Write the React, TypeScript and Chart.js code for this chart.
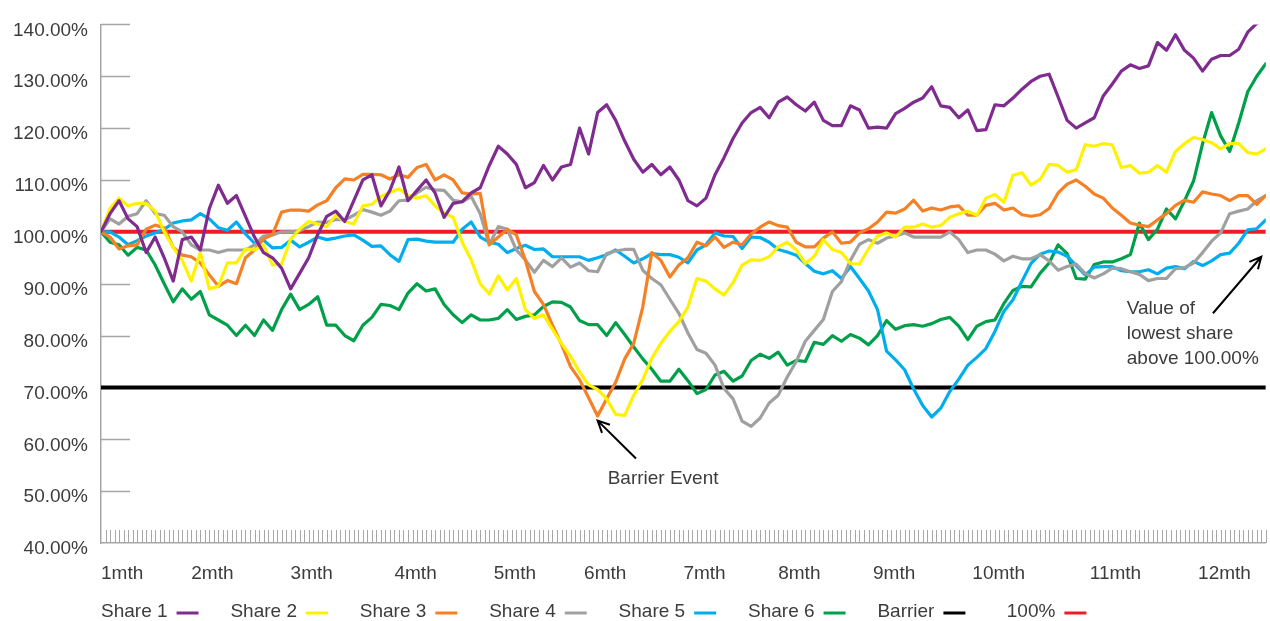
import React, { useEffect, useRef } from 'react';
import { Chart, registerables } from 'chart.js';

Chart.register(...registerables);

// ---- data -------------------------------------------------------------
// readings every STEP trading days, day 0 .. LAST_DAY
const STEP = 2;
const LAST_DAY = 258;

const MONTH_LABELS = ['1mth', '2mth', '3mth', '4mth', '5mth', '6mth', '7mth', '8mth', '9mth', '10mth', '11mth', '12mth'];
const MONTH_DAYS = [0, 20, 42, 65, 87, 107, 129, 150, 171, 193, 219, 243];

const Y_MIN = 40;
const Y_MAX = 140;
const Y_STEP = 10;

const BARRIER = 70;
const PAR = 100;

const SHARE_1 = [
  100, 103.5, 106, 102.5, 101, 96, 99, 95, 90.5, 98.5,
  99, 96.5, 104.5, 109, 105.5, 107, 103, 99, 96, 95,
  93, 89, 92, 95, 99.5, 103, 104, 102, 106, 110,
  111, 105, 108, 112.5, 106, 108, 110, 107.5, 102.8, 105.5,
  105.8, 107.5, 108.5, 112.8, 116.5, 115, 113, 108.5, 109.5, 112.8,
  110, 112.5, 113, 120, 115, 123, 124.5, 121.5, 117.5, 114,
  111.5, 113, 111, 112.5, 110, 106, 105, 106.5, 111, 114.3,
  118, 121, 123, 124, 122, 125, 126, 124.5, 123.3, 125,
  121.5, 120.5, 120.5, 124.3, 123.5, 120, 120.2, 120, 122.8, 123.8,
  125, 125.8, 128, 124.3, 124, 122, 123.5, 119.5, 119.7, 124.5,
  124.3, 125.8, 127.5, 129, 130, 130.4, 126, 121.5, 120, 121,
  122, 126.2, 128.5, 131, 132.2, 131.5, 132, 136.5, 135, 138,
  135, 133.5, 131, 133.3, 134, 134, 135.2, 138.5, 140.2, 141,
];

const SHARE_2 = [
  100, 104.5, 106.5, 105, 105.5, 105.5, 104, 100, 97, 94.5,
  90.5, 96, 89, 89.5, 94, 94, 96.7, 96.5, 97.5, 93.6,
  93.8, 98.6, 100.5, 102, 101.5, 101, 103.2, 102, 101.5, 105,
  105.3, 106.8, 107.6, 108.3, 107, 106.5, 107, 105, 103.6, 102.8,
  98, 94.6, 90, 88, 91.5, 88.8, 91, 85, 83.3, 84,
  81.2, 78.5, 76, 73, 70.5, 69.6, 67.8, 64.8, 64.6, 68.5,
  71.5, 75.6, 78.5, 80.8, 82.7, 85.5, 91, 90.5, 89, 87.8,
  90.2, 93.6, 94.6, 94.5, 95.2, 97.1, 98, 96.5, 93.9, 95.3,
  98.5, 96.6, 96, 93.9, 93.8, 96.7, 99.2, 99.8, 99, 100.9,
  100.9, 101.5, 100.9, 101.2, 102.8, 103.5, 104, 103.2, 106.5, 107.2,
  105.7, 110.9, 111.4, 109, 110.1, 113, 112.8, 111.5, 112, 116.8,
  116.5, 117, 116.8, 112.4, 112.8, 111.3, 111.5, 112.8, 111.5, 115.5,
  117, 118.2, 117.8, 117.2, 116, 117, 117, 115.3, 115, 116,
];

const SHARE_3 = [
  100, 99, 96.7, 97.3, 97.5, 100.5, 101.3, 100.8, 97, 95.5,
  95.2, 94, 91.7, 89.5, 90.6, 90, 95, 96.5, 98.6, 99.5,
  103.8, 104.2, 104.2, 104, 105.2, 106, 108.5, 110.2, 110, 111.1,
  111.1, 111, 110.2, 111, 110.5, 112.4, 113, 110, 111, 110,
  107.5, 107.3, 107.4, 97.5, 99, 100.5, 99.4, 94.5, 88.5, 86,
  82, 78.3, 74, 71.5, 68, 64.5, 67.8, 71, 75.5, 78.5,
  85.5, 96, 94.5, 91.3, 93.6, 95, 98, 97.3, 99, 97,
  98, 97.5, 99.6, 100.9, 101.9, 101.2, 100.9, 98, 97.1, 97.1,
  98.8, 100, 97.8, 98, 99.8, 100.6, 101.9, 103.8, 103.6, 104.4,
  106.1, 104, 104.6, 104.2, 104.8, 105, 103.2, 103.2, 105.1, 105.5,
  104.2, 104.6, 103.3, 103, 103.3, 104.5, 107.5, 109.2, 110, 108.8,
  107.3, 106.5, 104.6, 103.2, 101.7, 101.3, 101, 102.3, 103.5, 105.1,
  106.1, 105.7, 107.7, 107.3, 107, 106, 107, 107, 105.3, 107,
];

const SHARE_4 = [
  100, 102.5, 101.5, 103, 103.5, 106, 103.5, 103.2, 101, 100,
  97.5, 96.5, 96.5, 96, 96.5, 96.5, 96.5, 97.5, 99.2, 99.4,
  100, 100, 100.2, 101, 101.9, 101.8, 102.4, 102.3, 103.2, 104.3,
  103.8, 103.2, 104, 106, 106.1, 107.5, 108.6, 108.1, 108, 106.1,
  105.8, 106.8, 103.5, 97.5, 101, 100.5, 96.5, 94.6, 92.2, 94.5,
  93.3, 95, 93.2, 94, 92.5, 92.3, 95.8, 96.3, 96.6, 96.6,
  92.6, 91, 89.8, 87, 84.3, 80.5, 77.3, 76.6, 74.3, 69.8,
  67.8, 63.5, 62.5, 64.1, 67, 68.5, 72, 75, 78.9, 81,
  83.1, 88.5, 90.4, 94.5, 97.6, 98.5, 97.8, 98.8, 99.2, 99.8,
  99, 99, 99, 99, 100, 98.5, 96, 96.5, 96.5, 95.7,
  94.4, 95.3, 94.8, 94.8, 95.6, 94.4, 92.6, 93.3, 93.8, 92,
  91.1, 91.9, 93, 92.9, 92.3, 91.8, 90.6, 91, 91, 92.9,
  93.1, 94, 96, 98.2, 99.8, 103.5, 104, 104.4, 106, 107,
];

const SHARE_5 = [
  100, 100, 99, 97.5, 98.3, 99.2, 99.8, 100.5, 101.7, 102.1,
  102.3, 103.5, 102.5, 100.8, 100.3, 101.9, 99.6, 97.8, 98.4, 96.9,
  97, 98.4, 97.1, 98, 99, 98.5, 98.8, 99.2, 99.4, 98.4,
  97.2, 97.3, 95.6, 94.3, 98.5, 98.6, 98.2, 98, 98, 98,
  100.5, 101.9, 99, 98, 97.6, 96, 96.8, 97.4, 96.6, 96.7,
  95.2, 95.2, 95.2, 95.2, 94.5, 95, 95.6, 96.5, 95.3, 94,
  94.8, 95.8, 95.6, 95.6, 95.1, 94, 96.5, 97.5, 99.8, 99.2,
  99.1, 96.8, 99, 98.9, 98, 96.6, 96.1, 95.5, 93.9, 92.4,
  91.9, 92.5, 91, 93.3, 91, 88.6, 85, 77, 75.3, 73.4,
  69.7, 66.5, 64.3, 66, 69.2, 71.6, 74.3, 75.8, 77.5, 80.8,
  84.7, 86.9, 90.5, 93.9, 95.7, 96.3, 96.1, 95.3, 93.5, 91.7,
  93.2, 93.3, 93.3, 92.5, 92.3, 92.3, 92.7, 91.9, 93, 93.3,
  92.9, 94.3, 93.5, 94.4, 95.6, 95.9, 97.8, 100.4, 100.6, 102.3,
];

const SHARE_6 = [
  100, 98, 97.5, 95.5, 97, 96.5, 93.6, 90, 86.5, 89,
  87, 88.5, 84, 83, 82, 80, 82, 80, 83, 81,
  85, 88, 85, 86, 87.5, 82, 82, 80, 79, 82,
  83.5, 86, 85.8, 85, 88.2, 90, 88.6, 89, 86, 84,
  82.5, 84, 83, 83, 83.3, 85, 83.1, 83.7, 84, 85.6,
  86.5, 86.4, 85.5, 82.9, 82.1, 82.1, 80, 82.5, 80.2, 77.8,
  75.5, 73.5, 71.2, 71.2, 73.5, 71.3, 68.8, 69.6, 72.4, 73.1,
  71.2, 72.2, 75.2, 76.4, 75.6, 76.8, 74.3, 75.2, 75, 78.7,
  78.3, 80, 78.9, 80.2, 79.5, 78.2, 80, 82.9, 81.2, 81.9,
  82.1, 81.8, 82.3, 83.1, 83.5, 81.8, 79.2, 81.8, 82.7, 83,
  86.2, 88.7, 89.5, 89.4, 92, 94, 97.5, 95.8, 91, 90.9,
  93.7, 94.2, 94.2, 94.8, 95.6, 101.7, 98.5, 100.5, 104.4, 102.5,
  106, 109.8, 117, 123, 118.5, 115.5, 121, 127, 130, 132.4,
];

const SHARE_NAMES = ['Share 1', 'Share 2', 'Share 3', 'Share 4', 'Share 5', 'Share 6'];
const SHARE_VALUES = [SHARE_1, SHARE_2, SHARE_3, SHARE_4, SHARE_5, SHARE_6];
const SHARE_COLORS = ['#7f2b8f', '#fff200', '#f58025', '#a0a0a0', '#00aeef', '#00a04b'];
const BARRIER_NAME = 'Barrier';
const PAR_NAME = '100%';
const BARRIER_COLOR = '#000000';
const PAR_COLOR = '#ee1c25';

// annotation anchors in data space (day, value)
const BARRIER_EVENT_TEXT = 'Barrier Event';
const BARRIER_EVENT_TIP = { day: 110, value: 63.6 };
const BARRIER_EVENT_TAIL = { day: 118.5, value: 56.3 };
const BARRIER_EVENT_LABEL = { day: 124.5, value: 52.3 };

const LOWEST_TEXT = ['Value of', 'lowest share', 'above 100.00%'];
const LOWEST_TIP = { day: 257, value: 95.2 };
const LOWEST_TAIL = { day: 246.3, value: 84.3 };
const LOWEST_LABEL = { day: 227.2, value: 85.1 };
const LOWEST_LINE_GAP = 4.8; // value units between text lines

const FONT = '"Liberation Sans", Arial, Helvetica, sans-serif';
const TEXT_COLOR = '#3c3c3c';
const AXIS_COLOR = '#a6a6a6';

function toPoints(values: number[]) {
  return values.map((v, i) => ({ x: i * STEP, y: v }));
}

function drawArrow(ctx: CanvasRenderingContext2D, x1: number, y1: number, x2: number, y2: number) {
  const ang = Math.atan2(y2 - y1, x2 - x1);
  const head = 13;
  const spread = 0.45;
  ctx.beginPath();
  ctx.moveTo(x1, y1);
  ctx.lineTo(x2, y2);
  ctx.moveTo(x2 - head * Math.cos(ang - spread), y2 - head * Math.sin(ang - spread));
  ctx.lineTo(x2, y2);
  ctx.lineTo(x2 - head * Math.cos(ang + spread), y2 - head * Math.sin(ang + spread));
  ctx.stroke();
}

const decorPlugin = {
  id: 'decor',
  beforeDatasetsDraw(chart: any) {
    const { ctx, scales } = chart;
    const x = scales.x;
    const y = scales.y;
    ctx.save();
    ctx.strokeStyle = AXIS_COLOR;
    ctx.lineWidth = 1;
    // minor day ticks along x axis
    const yb = y.getPixelForValue(Y_MIN);
    for (let d = 1; d <= LAST_DAY; d++) {
      const px = Math.round(x.getPixelForValue(d)) + 0.5;
      ctx.beginPath();
      ctx.moveTo(px, yb);
      ctx.lineTo(px, yb - 13);
      ctx.stroke();
    }
    // inner ticks on y axis
    ctx.lineWidth = 1.5;
    for (let v = Y_MIN + Y_STEP; v <= Y_MAX; v += Y_STEP) {
      const py = Math.round(y.getPixelForValue(v)) + 0.5;
      ctx.beginPath();
      ctx.moveTo(x.left, py);
      ctx.lineTo(x.left + 29, py);
      ctx.stroke();
    }
    ctx.restore();
  },
  afterDraw(chart: any) {
    const { ctx, scales, chartArea } = chart;
    const x = scales.x;
    const y = scales.y;
    ctx.save();
    ctx.font = '19px ' + FONT;
    ctx.fillStyle = TEXT_COLOR;
    ctx.textBaseline = 'middle';

    // Barrier event annotation
    ctx.strokeStyle = '#000';
    ctx.lineWidth = 2;
    drawArrow(
      ctx,
      x.getPixelForValue(BARRIER_EVENT_TAIL.day), y.getPixelForValue(BARRIER_EVENT_TAIL.value),
      x.getPixelForValue(BARRIER_EVENT_TIP.day), y.getPixelForValue(BARRIER_EVENT_TIP.value)
    );
    ctx.textAlign = 'center';
    ctx.fillText(BARRIER_EVENT_TEXT, x.getPixelForValue(BARRIER_EVENT_LABEL.day), y.getPixelForValue(BARRIER_EVENT_LABEL.value));

    // lowest share annotation
    drawArrow(
      ctx,
      x.getPixelForValue(LOWEST_TAIL.day), y.getPixelForValue(LOWEST_TAIL.value),
      x.getPixelForValue(LOWEST_TIP.day), y.getPixelForValue(LOWEST_TIP.value)
    );
    ctx.textAlign = 'left';
    LOWEST_TEXT.forEach((t, i) => {
      ctx.fillText(t, x.getPixelForValue(LOWEST_LABEL.day), y.getPixelForValue(LOWEST_LABEL.value - i * LOWEST_LINE_GAP));
    });

    // legend: text followed by a line sample
    const names = [...SHARE_NAMES, BARRIER_NAME, PAR_NAME];
    const colors = [...SHARE_COLORS, BARRIER_COLOR, PAR_COLOR];
    const ly = 612;
    names.forEach((name, i) => {
      const lx = chartArea.left + i * 129.4;
      ctx.fillStyle = TEXT_COLOR;
      ctx.textAlign = 'left';
      ctx.fillText(name, lx, ly);
      const w = ctx.measureText(name).width;
      ctx.strokeStyle = colors[i];
      ctx.lineWidth = 3;
      ctx.beginPath();
      ctx.moveTo(lx + w + 9, ly + 1);
      ctx.lineTo(lx + w + 31, ly + 1);
      ctx.stroke();
    });
    ctx.restore();
  },
};

export default function App() {
  const canvasRef = useRef<HTMLCanvasElement | null>(null);

  useEffect(() => {
    document.body.style.margin = '0';
    const canvas = canvasRef.current;
    if (!canvas) return;

    const shareSets = SHARE_NAMES.map((name, i) => ({
      label: name,
      data: toPoints(SHARE_VALUES[i]),
      borderColor: SHARE_COLORS[i],
      backgroundColor: SHARE_COLORS[i],
      borderWidth: 3.2,
      pointRadius: 0,
      tension: 0,
      borderJoinStyle: 'round' as const,
      borderCapStyle: 'round' as const,
      order: 1,
    }));

    const chart = new Chart(canvas, {
      type: 'line',
      data: {
        datasets: [
          ...shareSets,
          {
            label: BARRIER_NAME,
            data: [{ x: 0, y: BARRIER }, { x: LAST_DAY, y: BARRIER }],
            borderColor: BARRIER_COLOR,
            borderWidth: 4,
            pointRadius: 0,
            order: 2,
          },
          {
            label: PAR_NAME,
            data: [{ x: 0, y: PAR }, { x: LAST_DAY, y: PAR }],
            borderColor: PAR_COLOR,
            borderWidth: 4,
            pointRadius: 0,
            order: 2,
          },
        ],
      },
      options: {
        animation: false,
        responsive: false,
        devicePixelRatio: 1,
        layout: { padding: { top: 21, right: 2, left: 0, bottom: 0 } },
        plugins: {
          legend: { display: false },
          tooltip: { enabled: false },
        },
        scales: {
          x: {
            type: 'linear',
            min: 0,
            max: LAST_DAY,
            grid: { display: false, drawTicks: false },
            border: { display: true, color: AXIS_COLOR, width: 1.5 },
            afterBuildTicks: (scale: any) => {
              scale.ticks = MONTH_DAYS.map((d) => ({ value: d }));
            },
            afterFit: (scale: any) => {
              scale.height = 78;
            },
            ticks: {
              autoSkip: false,
              maxRotation: 0,
              minRotation: 0,
              align: 'start',
              padding: 19,
              color: TEXT_COLOR,
              font: { family: FONT, size: 19 },
              callback: (value: any) => {
                const idx = MONTH_DAYS.indexOf(Number(value));
                return idx >= 0 ? MONTH_LABELS[idx] : '';
              },
            },
          },
          y: {
            type: 'linear',
            min: Y_MIN,
            max: Y_MAX,
            grid: { display: false, drawTicks: false },
            border: { display: true, color: AXIS_COLOR, width: 1.5 },
            afterFit: (scale: any) => {
              scale.width = 101;
            },
            ticks: {
              stepSize: Y_STEP,
              padding: 13,
              labelOffset: 6,
              color: TEXT_COLOR,
              font: { family: FONT, size: 19 },
              callback: (value: any) => Number(value).toFixed(2) + '%',
            },
          },
        },
      },
      plugins: [decorPlugin],
    } as any);

    return () => chart.destroy();
  }, []);

  return (
    <div style={{ width: 1270, height: 621, background: '#fff' }}>
      <canvas ref={canvasRef} width={1270} height={621} style={{ display: 'block', width: 1270, height: 621 }} />
    </div>
  );
}
